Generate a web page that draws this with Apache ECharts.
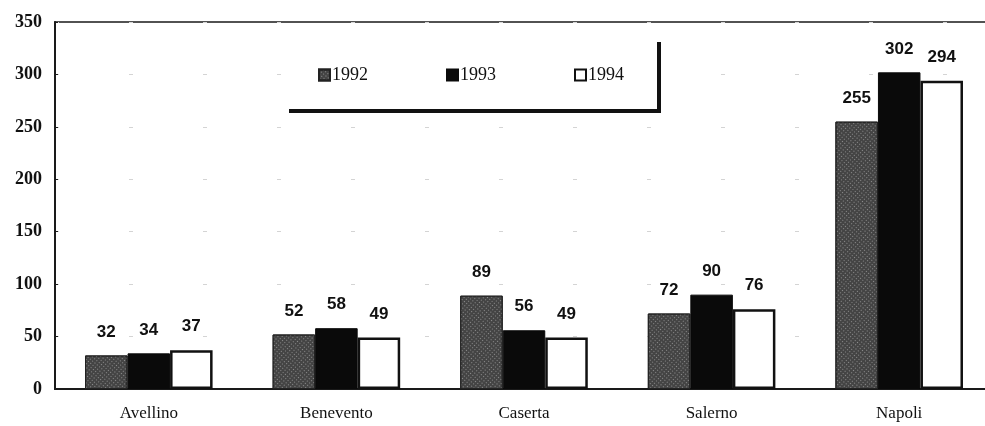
<!DOCTYPE html>
<html>
<head>
<meta charset="utf-8">
<script src="https://cdn.jsdelivr.net/npm/echarts@6/dist/echarts.min.js"></script>
<style>
  html, body { margin: 0; padding: 0; background: #fff; }
  #chart { width: 985px; height: 426px; }
</style>
</head>
<body>
<div id="chart"></div>
<script>
// province names and yearly values
const provinces = ['Avellino', 'Benevento', 'Caserta', 'Salerno', 'Napoli']
const years = ['1992', '1993', '1994']
const values1992 = [32, 52, 89, 72, 255]
const values1993 = [34, 58, 56, 90, 302]
const values1994 = [37, 49, 49, 76, 294]

const chart = echarts.init(document.getElementById('chart'))

const labelStyle = {
  show: true,
  position: 'top',
  distance: 15,
  fontFamily: 'Liberation Sans',
  fontWeight: 'bold',
  fontSize: 17,
  color: '#111'
}

chart.setOption({
  animation: false,
  grid: {
    left: 55,
    right: -8,
    top: 22,
    bottom: 37,
    outerBoundsMode: 'none',
    show: true,
    borderColor: '#1a1a1a',
    borderWidth: 1.5
  },
  legend: {
    data: years.map(name => ({ name, icon: 'rect' })),
    left: 285,
    top: 38,
    padding: [28, 33, 25, 33],
    itemGap: 78,
    itemWidth: 11,
    itemHeight: 11,
    backgroundColor: '#fff',
    shadowColor: '#111',
    shadowBlur: 0,
    shadowOffsetX: 4,
    shadowOffsetY: 4,
    textStyle: {
      fontFamily: 'Liberation Serif',
      fontSize: 18,
      color: '#111',
      padding: [0, 0, 0, -3]
    }
  },
  xAxis: {
    type: 'category',
    data: provinces,
    axisLine: { lineStyle: { color: '#1a1a1a', width: 2 } },
    axisTick: { show: false },
    axisLabel: {
      margin: 16,
      fontFamily: 'Liberation Serif',
      fontSize: 17,
      color: '#111'
    }
  },
  yAxis: {
    type: 'value',
    min: 0,
    max: 350,
    interval: 50,
    axisLine: { show: true, lineStyle: { color: '#1a1a1a', width: 2 } },
    axisTick: { show: true, inside: true, length: 3, lineStyle: { color: '#1a1a1a' } },
    axisLabel: {
      margin: 13,
      fontFamily: 'Liberation Serif',
      fontWeight: 'bold',
      fontSize: 18,
      color: '#111'
    },
    splitLine: {
      show: true,
      lineStyle: { color: '#d4d4d4', type: [4, 70], width: 1 }
    }
  },
  series: [
    {
      name: '1992',
      type: 'bar',
      data: values1992,
      barGap: '0%',
      barCategoryGap: '32%',
      itemStyle: {
        color: '#444',
        borderColor: '#222',
        borderWidth: 1,
        decal: {
          symbol: 'rect',
          symbolSize: 1,
          color: 'rgba(255,255,255,0.4)',
          dashArrayX: [1, 2],
          dashArrayY: [1, 2],
          rotation: 0.7
        }
      },
      label: labelStyle
    },
    {
      name: '1993',
      type: 'bar',
      data: values1993,
      itemStyle: { color: '#0a0a0a', borderColor: '#0a0a0a', borderWidth: 1 },
      label: labelStyle
    },
    {
      name: '1994',
      type: 'bar',
      data: values1994,
      itemStyle: { color: '#fff', borderColor: '#111', borderWidth: 2.5 },
      label: labelStyle
    }
  ]
})
</script>
</body>
</html>
